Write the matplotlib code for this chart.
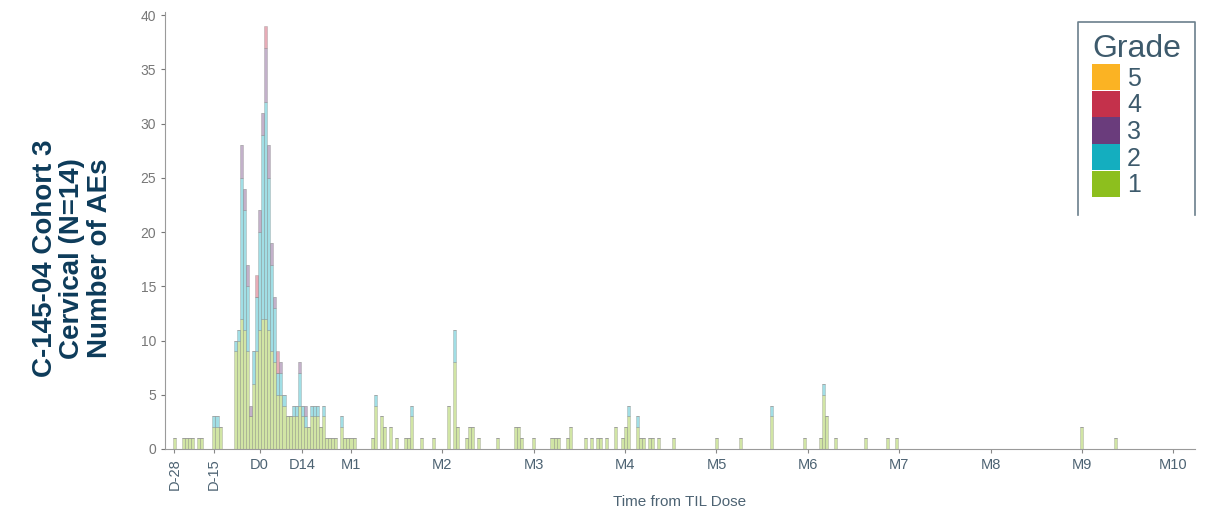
import matplotlib.pyplot as plt
from matplotlib.patches import Patch
from matplotlib.lines import Line2D
import numpy as np

plt.rcParams['font.family'] = ['Liberation Sans', 'DejaVu Sans']

# days from TIL dose and number of AEs per grade
days = [-28, -25, -24, -23, -22, -20, -19, -15, -14, -13,
        -8, -7, -6, -5, -4, -3, -2, -1, 0, 1, 2, 3, 4, 5, 6, 7, 8, 9, 10,
        11, 12, 13, 14, 15, 16, 17, 18, 19, 20, 21, 22, 23, 24, 25, 27,
        28, 29, 30, 31, 37, 38, 40, 41, 43, 45, 48, 49, 50, 53, 57,
        62, 64, 65, 68, 69, 70, 72, 78, 84, 85, 86, 90, 96, 97, 98,
        101, 102, 107, 109, 111, 112, 114, 117, 119, 120, 121, 124, 125,
        126, 128, 129, 131, 136, 150, 158, 168, 179, 184, 185, 186, 189,
        199, 206, 209, 270, 281]
g1 = [1, 1, 1, 1, 1, 1, 1, 2, 2, 2,
      9, 10, 12, 11, 9, 3, 6, 9, 11, 12, 12, 11, 9, 8, 5, 5, 4, 3, 3,
      3, 3, 4, 3, 2, 2, 3, 3, 3, 2, 3, 1, 1, 1, 1, 2,
      1, 1, 1, 1, 1, 4, 3, 2, 2, 1, 1, 1, 3, 1, 1,
      4, 8, 2, 1, 2, 2, 1, 1, 2, 2, 1, 1, 1, 1, 1,
      1, 2, 1, 1, 1, 1, 1, 2, 1, 2, 3, 2, 1,
      1, 1, 1, 1, 1, 1, 1, 3, 1, 1, 5, 3, 1,
      1, 1, 1, 2, 1]
g2 = [0, 0, 0, 0, 0, 0, 0, 1, 1, 0,
      1, 1, 13, 11, 6, 0, 3, 5, 9, 17, 20, 14, 8, 5, 2, 2, 1, 0, 0,
      1, 1, 3, 1, 1, 0, 1, 1, 1, 0, 1, 0, 0, 0, 0, 1,
      0, 0, 0, 0, 0, 1, 0, 0, 0, 0, 0, 0, 1, 0, 0,
      0, 3, 0, 0, 0, 0, 0, 0, 0, 0, 0, 0, 0, 0, 0,
      0, 0, 0, 0, 0, 0, 0, 0, 0, 0, 1, 1, 0,
      0, 0, 0, 0, 0, 0, 0, 1, 0, 0, 1, 0, 0,
      0, 0, 0, 0, 0]
g3 = [0, 0, 0, 0, 0, 0, 0, 0, 0, 0,
      0, 0, 3, 2, 2, 1, 0, 0, 2, 2, 5, 3, 2, 1, 0, 1, 0, 0, 0,
      0, 0, 1, 0, 1, 0, 0, 0, 0, 0, 0, 0, 0, 0, 0, 0,
      0, 0, 0, 0, 0, 0, 0, 0, 0, 0, 0, 0, 0, 0, 0,
      0, 0, 0, 0, 0, 0, 0, 0, 0, 0, 0, 0, 0, 0, 0,
      0, 0, 0, 0, 0, 0, 0, 0, 0, 0, 0, 0, 0,
      0, 0, 0, 0, 0, 0, 0, 0, 0, 0, 0, 0, 0,
      0, 0, 0, 0, 0]
g4 = [0, 0, 0, 0, 0, 0, 0, 0, 0, 0,
      0, 0, 0, 0, 0, 0, 0, 2, 0, 0, 2, 0, 0, 0, 2, 0, 0, 0, 0,
      0, 0, 0, 0, 0, 0, 0, 0, 0, 0, 0, 0, 0, 0, 0, 0,
      0, 0, 0, 0, 0, 0, 0, 0, 0, 0, 0, 0, 0, 0, 0,
      0, 0, 0, 0, 0, 0, 0, 0, 0, 0, 0, 0, 0, 0, 0,
      0, 0, 0, 0, 0, 0, 0, 0, 0, 0, 0, 0, 0,
      0, 0, 0, 0, 0, 0, 0, 0, 0, 0, 0, 0, 0,
      0, 0, 0, 0, 0]

grades = ['1', '2', '3', '4', '5']
grade_colors = ['#8dbf1e', '#14aebf', '#6a3c7c', '#c4314b', '#fbb323']

tick_pos = [-28, -15, 0, 14] + [30 * m for m in range(1, 11)]
tick_labels = ['D-28', 'D-15', 'D0', 'D14'] + ['M%d' % m for m in range(1, 11)]

W, H = 1224, 507
fig = plt.figure(figsize=(W / 100, H / 100), dpi=100)
ax = fig.add_axes([0.135, 0.1144, 0.841, 0.862])

x = np.array(days)
bottom = np.zeros(len(days))
for vals, col in zip([g1, g2, g3, g4], grade_colors):
    v = np.array(vals, dtype=float)
    ax.bar(x, v, bottom=bottom, width=1.0, color=col, alpha=0.4,
           edgecolor='#8f8f8f', linewidth=0.6)
    bottom += v

ax.set_xlim(-31, 307)
ax.set_ylim(0, 40.3)
ax.set_yticks(range(0, 41, 5))
ax.set_xticks(tick_pos)
ax.set_xticklabels(tick_labels)
for lab in ax.get_xticklabels()[:2]:
    lab.set_rotation(90)
    lab.set_va('top')
ax.tick_params(axis='y', colors='#777777', labelsize=10, length=3)
ax.tick_params(axis='x', colors='#888888', labelcolor='#4d6373', labelsize=10.5, length=3)
for s in ['top', 'right']:
    ax.spines[s].set_visible(False)
for s in ['left', 'bottom']:
    ax.spines[s].set_color('#9a9a9a')
ax.set_xlabel('Time from TIL Dose', color='#4d6373', fontsize=11, labelpad=4)

fig.text(0.059, 0.49, 'C-145-04 Cohort 3\nCervical (N=14)\nNumber of AEs',
         rotation=90, ha='center', va='center', multialignment='center',
         fontsize=20, fontweight='bold', color='#0d3b5a', linespacing=1.08)

# legend, frame drawn by hand (open at the bottom like the original)
handles = [Patch(facecolor=c, edgecolor='none') for c in grade_colors[::-1]]
leg = ax.legend(handles, grades[::-1], title='Grade', loc='upper left',
                bbox_to_anchor=(1087 / W, 1 - 29 / H),
                bbox_transform=fig.transFigure, fontsize=18,
                title_fontsize=23, handlelength=1.1, handleheight=1.25,
                labelspacing=0, handletextpad=0.3, borderpad=0.2,
                borderaxespad=0, frameon=False, alignment='left')
leg.get_title().set_color('#3d5a6c')
for t in leg.get_texts():
    t.set_color('#3d5a6c')
fx = [1078 / W, 1078 / W, 1195 / W, 1195 / W]
fy = [1 - 215 / H, 1 - 22 / H, 1 - 22 / H, 1 - 215 / H]
fig.add_artist(Line2D(fx, fy, color='#6b7f8c', lw=1.2, transform=fig.transFigure))

fig.savefig('out.png', dpi=100)
